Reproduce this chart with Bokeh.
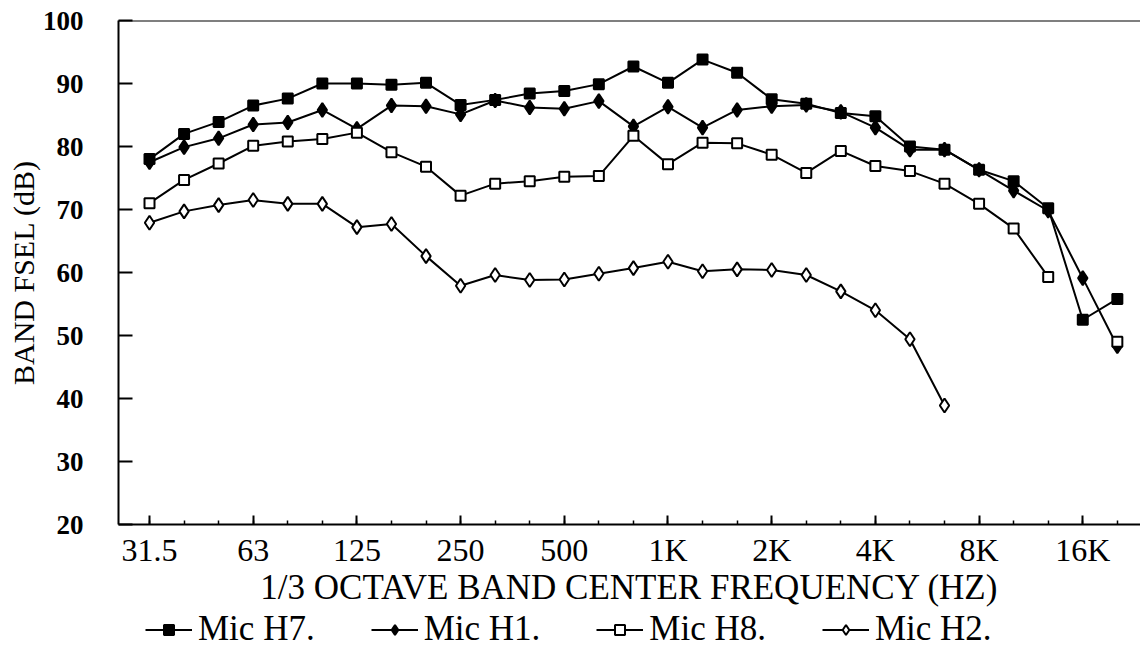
from bokeh.plotting import figure
from bokeh.layouts import column
from bokeh.models import FixedTicker, Span, Legend, LegendItem, Range1d
from bokeh.embed import file_html
from bokeh.resources import INLINE

# 1/3 octave band centres
bands = ["31.5", "40", "50", "63", "80", "100", "125", "160", "200", "250",
         "315", "400", "500", "630", "800", "1K", "1.25K", "1.6K", "2K", "2.5K",
         "3.15K", "4K", "5K", "6.3K", "8K", "10K", "12.5K", "16K", "20K"]
tick_bands = ["31.5", "63", "125", "250", "500", "1K", "2K", "4K", "8K", "16K"]

mic_h7 = [78.0, 82.0, 83.9, 86.5, 87.6, 90.0, 90.0, 89.8, 90.1, 86.6,
          87.4, 88.4, 88.8, 89.9, 92.7, 90.1, 93.8, 91.7, 87.5, 86.8,
          85.3, 84.8, 80.0, 79.5, 76.3, 74.5, 70.2, 52.5, 55.8]
mic_h1 = [77.5, 79.9, 81.3, 83.5, 83.8, 85.8, 82.8, 86.5, 86.4, 85.1,
          87.3, 86.2, 86.0, 87.2, 83.2, 86.3, 83.0, 85.8, 86.4, 86.6,
          85.5, 83.0, 79.5, 79.5, 76.3, 73.0, 69.8, 59.1, 48.3]
mic_h8 = [71.0, 74.7, 77.3, 80.1, 80.8, 81.2, 82.2, 79.1, 76.8, 72.2,
          74.1, 74.5, 75.2, 75.3, 81.7, 77.2, 80.6, 80.5, 78.7, 75.8,
          79.3, 76.9, 76.1, 74.1, 70.9, 67.0, 59.3, float("nan"), 49.0]
mic_h2 = [67.9, 69.7, 70.7, 71.5, 70.9, 70.9, 67.2, 67.7, 62.6, 57.9,
          59.6, 58.8, 58.9, 59.8, 60.7, 61.7, 60.2, 60.5, 60.4, 59.6,
          57.0, 54.0, 49.4, 38.9]
series_names = ["Mic H7.", "Mic H1.", "Mic H8.", "Mic H2."]

serif = "Liberation Serif"

x_all = list(range(len(bands)))
tick_pos = [bands.index(t) for t in tick_bands]

# ---------------- main chart ----------------
p = figure(width=1140, height=609, output_backend="svg", toolbar_location=None,
           x_range=Range1d(-0.897, 28.67), y_range=Range1d(20, 100),
           min_border_left=118, min_border_right=0, min_border_top=20,
           min_border_bottom=82)
p.grid.visible = False
p.outline_line_color = None
p.background_fill_color = "white"
p.border_fill_color = "white"

styles = [("square", 10, "black"), ("diamond", 14, "black"),
          ("square", 10, "white"), ("diamond", 14, "white")]
all_vals = [mic_h7, mic_h1, mic_h8, mic_h2]

def series(fig, vals, marker, size, fill):
    xs = x_all[:len(vals)]
    ln = fig.line(xs, vals, line_color="black", line_width=2)
    mk = fig.scatter(xs, vals, marker=marker, size=size, fill_color=fill,
                     line_color="black", line_width=2)
    return [ln, mk]

for vals, (m, s, f) in zip(all_vals, styles):
    series(p, vals, m, s, f)

# x axis
xa = p.xaxis[0]
xa.ticker = FixedTicker(ticks=tick_pos, minor_ticks=x_all)
xa.major_label_overrides = {i: t for i, t in zip(tick_pos, tick_bands)}
xa.major_tick_in = 9
xa.major_tick_out = 0
xa.minor_tick_in = 4
xa.minor_tick_out = 0
xa.axis_line_width = 2
xa.major_tick_line_width = 2
xa.minor_tick_line_width = 1.5
xa.major_label_text_font = serif
xa.major_label_text_font_size = "32px"
xa.major_label_text_color = "black"
xa.major_label_standoff = 7
xa.axis_label = "1/3 OCTAVE BAND CENTER FREQUENCY (HZ)"
xa.axis_label_text_font = serif
xa.axis_label_text_font_size = "35px"
xa.axis_label_text_font_style = "normal"
xa.axis_label_text_color = "black"
xa.axis_label_standoff = -3

# y axis
ya = p.yaxis[0]
ya.ticker = FixedTicker(ticks=list(range(20, 101, 10)), minor_ticks=[])
ya.major_tick_in = 14
ya.major_tick_out = 0
ya.axis_line_width = 2
ya.major_tick_line_width = 2
ya.major_label_text_font = serif
ya.major_label_text_font_size = "27px"
ya.major_label_text_font_style = "bold"
ya.major_label_text_color = "black"
ya.major_label_standoff = 35
ya.axis_label = "BAND FSEL (dB)"
ya.axis_label_text_font = serif
ya.axis_label_text_font_size = "30px"
ya.axis_label_text_font_style = "normal"
ya.axis_label_text_color = "black"
ya.axis_label_standoff = 0

# top frame line
p.add_layout(Span(location=100, dimension="width", line_color="black", line_width=2))

# ---------------- legend strip ----------------
q = figure(width=1140, height=40, output_backend="svg", toolbar_location=None,
           x_range=Range1d(100, 101), y_range=Range1d(0, 1),
           x_axis_location=None, y_axis_location=None,
           min_border_left=118, min_border_right=0, min_border_top=0,
           min_border_bottom=0)
q.grid.visible = False
q.outline_line_color = None
q.background_fill_color = "white"
q.border_fill_color = "white"

items = []
for name, vals, (m, s, f) in zip(series_names, all_vals, styles):
    rs = series(q, vals, m, s, f)
    items.append(LegendItem(label=name, renderers=rs))

legend = Legend(items=items, orientation="horizontal", location=(27, 0),
                glyph_width=47, glyph_height=25, label_standoff=6, spacing=56,
                padding=0, margin=0, border_line_color=None,
                background_fill_alpha=0,
                label_text_font=serif, label_text_font_size="35px",
                label_text_color="black", label_text_baseline="middle")
q.add_layout(legend)

layout = column(p, q, spacing=0)
open("out.html", "w").write(file_html(layout, INLINE))
